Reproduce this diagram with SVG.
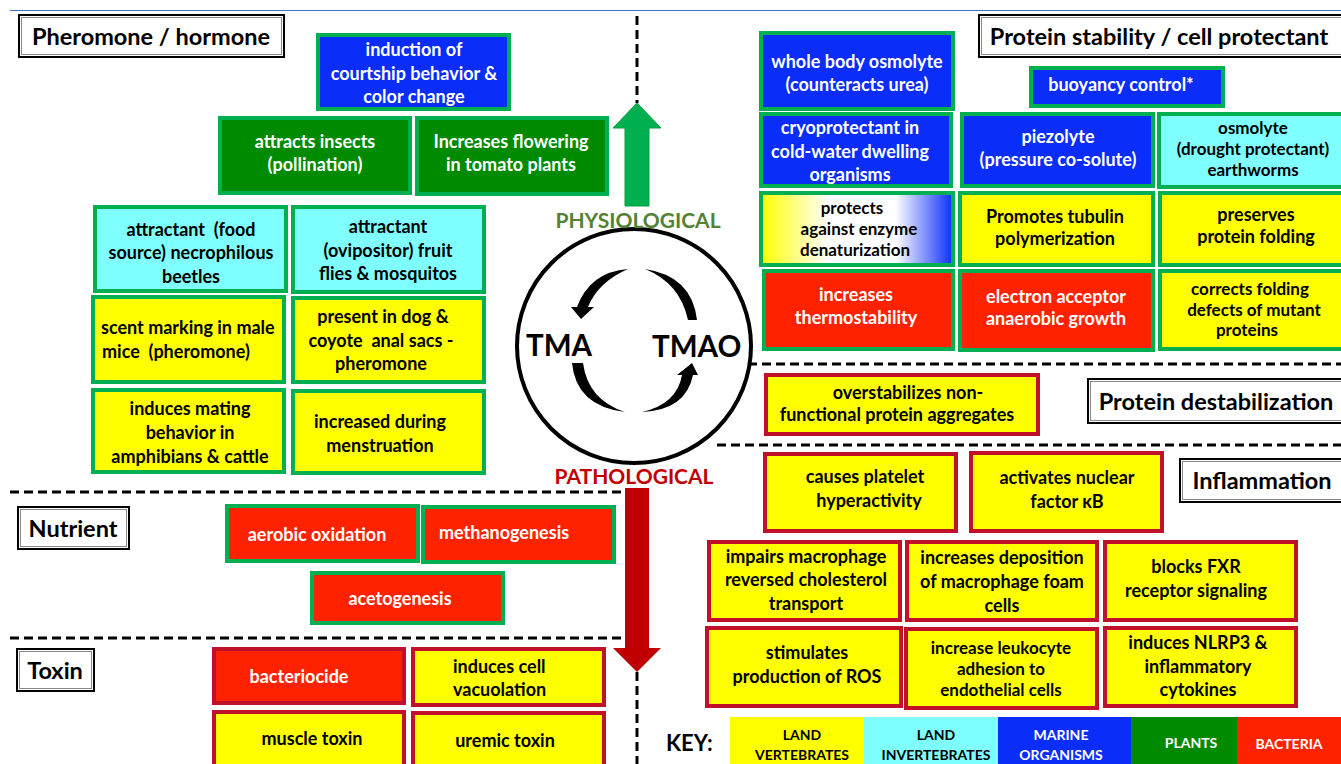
<svg xmlns="http://www.w3.org/2000/svg" width="1341" height="764" viewBox="0 0 1341 764">
<style>
text{font-family:Lato,"Liberation Sans",sans-serif;font-weight:700;font-size:18px;text-anchor:middle;fill:#000}
.w{fill:#fff}
.st{text-anchor:start}
.sm text{font-size:17px}
.g{stroke:#00B050;stroke-width:4}
.r{stroke:#C0102A;stroke-width:4}
.y{fill:#FFFF00}.c{fill:#7FFFFF}.b{fill:#0A2DFA}.p{fill:#008A00}.rd{fill:#FF2200}
.t rect{fill:#fff;stroke:#000;stroke-width:2}
.t rect.in{stroke:#888;stroke-width:1;fill:none}
.t text{font-size:23.5px}
.dash{stroke:#000;stroke-width:3;stroke-dasharray:9 5;fill:none}
.key text{font-size:14px}
.pre{white-space:pre}
</style>
<defs>
<linearGradient id="grad" x1="0" y1="0" x2="1" y2="0">
<stop offset="0" stop-color="#FFFF00"/><stop offset="0.35" stop-color="#FFFFFF"/><stop offset="0.7" stop-color="#FFFFFF"/><stop offset="1" stop-color="#0A2DFA"/>
</linearGradient>
</defs>
<line x1="10" y1="10.5" x2="1341" y2="10.5" stroke="#4472C4" stroke-width="1"/>

<g id="connectors">
<line class="dash" x1="637" y1="16" x2="637" y2="103"/>
<line class="dash" x1="637" y1="672" x2="637" y2="764"/>
<line class="dash" x1="10" y1="492" x2="625" y2="492"/>
<line class="dash" x1="10" y1="638" x2="625" y2="638"/>
<line class="dash" x1="748" y1="364" x2="1341" y2="364"/>
<line class="dash" x1="717" y1="445" x2="1341" y2="445"/>
<polygon points="637,103 661,128 649,128 649,206 625,206 625,128 613,128" fill="#00B050" stroke="#00A040" stroke-width="1"/>
<polygon points="625,488 649,488 649,648 661,648 637,672 613,648 625,648" fill="#C00000"/>
</g>

<g id="cycle">
<circle cx="634" cy="346" r="117" fill="#fff" stroke="#000" stroke-width="4"/>
<path d="M628,269 Q590,272 577,307 L571,307 L581,319 L594,307 L588,307 Q598,282 628,269 Z" fill="#000"/>
<path d="M645,269 Q692,276 697,320 L688,320 Q680,283 645,269 Z" fill="#000"/>
<path d="M572,363 L583,363 Q588,400 625,412 Q576,406 572,363 Z" fill="#000"/>
<path d="M642,412 Q677,404 682,375 L677,375 L692,363 L698,375 L693,375 Q686,410 642,412 Z" fill="#000"/>
<text x="526" y="356" class="st" style="font-size:29.5px">TMA</text>
<text x="652" y="357" class="st" style="font-size:29.5px">TMAO</text>
<text x="638" y="228" style="font-size:21px;fill:#548235">PHYSIOLOGICAL</text>
<text x="634" y="484" style="font-size:21px;fill:#C00000">PATHOLOGICAL</text>
</g>

<g id="title-pheromone" class="t"><rect x="19" y="15" width="265" height="42"/><rect class="in" x="21.5" y="17.5" width="260" height="37"/><text x="151" y="45">Pheromone / hormone</text></g>
<g id="title-protein" class="t"><rect x="979" y="15" width="370" height="42"/><rect class="in" x="981.5" y="17.5" width="365" height="37"/><text x="1159" y="45">Protein stability / cell protectant</text></g>
<g id="title-destab" class="t"><rect x="1088" y="379" width="260" height="44"/><rect class="in" x="1090.5" y="381.5" width="255" height="39"/><text x="1216" y="410">Protein destabilization</text></g>
<g id="title-inflam" class="t"><rect x="1180" y="459" width="170" height="43"/><rect class="in" x="1182.5" y="461.5" width="165" height="38"/><text x="1262" y="489">Inflammation</text></g>
<g id="title-nutrient" class="t"><rect x="18" y="507" width="111" height="42"/><rect class="in" x="20.5" y="509.5" width="106" height="37"/><text x="73" y="537">Nutrient</text></g>
<g id="title-toxin" class="t"><rect x="17" y="649" width="77" height="42"/><rect class="in" x="19.5" y="651.5" width="72" height="37"/><text x="55" y="679">Toxin</text></g>

<g id="n-courtship"><rect x="318" y="35" width="191" height="74" class="b g"/><text class="w" x="414" y="56">induction of</text><text class="w" x="414" y="80">courtship behavior &amp;</text><text class="w" x="414" y="103">color change</text></g>
<g id="n-pollination"><rect x="220" y="118" width="190" height="75" class="p g"/><text class="w" x="315" y="148">attracts insects</text><text class="w" x="315" y="171">(pollination)</text></g>
<g id="n-flowering"><rect x="417" y="118" width="190" height="76" class="p g"/><text class="w" x="511" y="148">Increases flowering</text><text class="w" x="511" y="171">in tomato plants</text></g>
<g id="n-beetles"><rect x="95" y="207" width="191" height="84" class="c g"/><text class="pre" x="191" y="236">attractant  (food</text><text x="191" y="259">source) necrophilous</text><text x="191" y="283">beetles</text></g>
<g id="n-flies"><rect x="293" y="207" width="191" height="85" class="c g"/><text x="388" y="233">attractant</text><text x="388" y="257">(ovipositor) fruit</text><text x="388" y="280">flies &amp; mosquitos</text></g>
<g id="n-mice"><rect x="93" y="297" width="191" height="85" class="y g"/><text class="st" x="101" y="334">scent marking in male</text><text class="st pre" x="102" y="358">mice  (pheromone)</text></g>
<g id="n-dog"><rect x="293" y="298" width="191" height="84" class="y g"/><text x="383" y="323">present in dog &amp;</text><text class="pre" x="381" y="347">coyote  anal sacs -</text><text x="381" y="370">pheromone</text></g>
<g id="n-mating"><rect x="93" y="390" width="191" height="82" class="y g"/><text x="190" y="415">induces mating</text><text x="190" y="439">behavior in</text><text x="190" y="463">amphibians &amp; cattle</text></g>
<g id="n-menstruation"><rect x="293" y="391" width="191" height="82" class="y g"/><text x="380" y="428">increased during</text><text x="380" y="452">menstruation</text></g>

<g id="n-aerobic"><rect x="227" y="506" width="191" height="55" class="rd g"/><text class="w" x="317" y="541">aerobic oxidation</text></g>
<g id="n-methano"><rect x="423" y="507" width="191" height="55" class="rd g"/><text class="w st" x="439" y="539">methanogenesis</text></g>
<g id="n-aceto"><rect x="312" y="573" width="191" height="50" class="rd g"/><text class="w" x="400" y="605">acetogenesis</text></g>

<g id="n-bacteriocide"><rect x="214" y="649" width="190" height="54" class="rd r"/><text class="w" x="299" y="683">bacteriocide</text></g>
<g id="n-vacuolation"><rect x="413" y="649" width="191" height="56" class="y r"/><text class="st" x="453" y="673">induces cell</text><text class="st" x="453" y="696">vacuolation</text></g>
<g id="n-muscle"><rect x="214" y="712" width="190" height="60" class="y r"/><text x="312" y="745">muscle toxin</text></g>
<g id="n-uremic"><rect x="413" y="713" width="191" height="60" class="y r"/><text x="505" y="747">uremic toxin</text></g>

<g id="n-wholebody"><rect x="761" y="33" width="192" height="76" class="b g"/><text class="w" x="857" y="68">whole body osmolyte</text><text class="w" x="857" y="91">(counteracts urea)</text></g>
<g id="n-buoyancy"><rect x="1031" y="68" width="192" height="38" class="b g"/><text class="w" x="1121" y="91">buoyancy control*</text></g>
<g id="n-cryo"><rect x="761" y="114" width="190" height="72" class="b g"/><text class="w" x="850" y="134">cryoprotectant in</text><text class="w" x="850" y="158">cold-water dwelling</text><text class="w" x="850" y="181">organisms</text></g>
<g id="n-piezolyte"><rect x="962" y="114" width="191" height="72" class="b g"/><text class="w" x="1058" y="143">piezolyte</text><text class="w" x="1058" y="166">(pressure co-solute)</text></g>
<g id="n-osmolyte" class="sm"><rect x="1159" y="114" width="190" height="73" class="c g"/><text x="1253" y="134">osmolyte</text><text x="1253" y="155">(drought protectant)</text><text x="1253" y="176">earthworms</text></g>
<g id="n-enzyme" class="sm"><rect x="761" y="193" width="192" height="72" fill="url(#grad)" class="g"/><text x="852" y="214">protects</text><text x="859" y="235">against enzyme</text><text x="855" y="256">denaturization</text></g>
<g id="n-tubulin"><rect x="960" y="193" width="193" height="72" class="y g"/><text x="1055" y="223">Promotes tubulin</text><text x="1055" y="245">polymerization</text></g>
<g id="n-folding"><rect x="1160" y="193" width="190" height="72" class="y g"/><text x="1256" y="221">preserves</text><text x="1256" y="243">protein folding</text></g>
<g id="n-thermo"><rect x="764" y="271" width="189" height="78" class="rd g"/><text class="w" x="856" y="301">increases</text><text class="w" x="856" y="324">thermostability</text></g>
<g id="n-electron"><rect x="960" y="271" width="193" height="79" class="rd g"/><text class="w" x="1056" y="303">electron acceptor</text><text class="w" x="1056" y="325">anaerobic growth</text></g>
<g id="n-corrects" class="sm"><rect x="1160" y="271" width="190" height="78" class="y g"/><text x="1250" y="295">corrects folding</text><text x="1254" y="315.5">defects of mutant</text><text x="1247" y="336">proteins</text></g>

<g id="n-overstab"><rect x="766" y="375" width="272" height="59" class="y r"/><text x="908" y="399">overstabilizes non-</text><text x="897" y="421">functional protein aggregates</text></g>

<g id="n-platelet"><rect x="765" y="454" width="191" height="77" class="y r"/><text x="865" y="483">causes platelet</text><text x="869" y="507">hyperactivity</text></g>
<g id="n-nfkb"><rect x="971" y="453" width="191" height="78" class="y r"/><text x="1067" y="484">activates nuclear</text><text x="1067" y="508">factor κB</text></g>
<g id="n-cholesterol"><rect x="709" y="542" width="191" height="78" class="y r"/><text x="806" y="563">impairs macrophage</text><text x="806" y="586">reversed cholesterol</text><text x="806" y="610">transport</text></g>
<g id="n-foam"><rect x="907" y="542" width="190" height="78" class="y r"/><text x="1002" y="564">increases deposition</text><text x="1002" y="588">of macrophage foam</text><text x="1002" y="612">cells</text></g>
<g id="n-fxr"><rect x="1105" y="542" width="191" height="78" class="y r"/><text x="1196" y="573">blocks FXR</text><text x="1196" y="597">receptor signaling</text></g>
<g id="n-ros"><rect x="707" y="628" width="194" height="78" class="y r"/><text x="807" y="659">stimulates</text><text x="807" y="683">production of ROS</text></g>
<g id="n-leukocyte" class="sm"><rect x="906" y="629" width="191" height="79" class="y r"/><text x="1001" y="654">increase leukocyte</text><text x="1001" y="675">adhesion to</text><text x="1001" y="696">endothelial cells</text></g>
<g id="n-nlrp3"><rect x="1105" y="628" width="191" height="78" class="y r"/><text x="1198" y="649">induces NLRP3 &amp;</text><text x="1198" y="673">inflammatory</text><text x="1198" y="696">cytokines</text></g>

<g id="key" class="key">
<text x="666" y="751" class="st" style="font-size:22px">KEY:</text>
<rect x="730" y="717" width="134" height="50" class="y"/>
<rect x="864" y="717" width="134" height="50" class="c"/>
<rect x="998" y="717" width="133" height="50" class="b"/>
<rect x="1131" y="717" width="106" height="50" class="p"/>
<rect x="1237" y="717" width="104" height="50" class="rd"/>
<text x="802" y="740">LAND</text><text x="802" y="760">VERTEBRATES</text>
<text x="936" y="740">LAND</text><text x="936" y="760">INVERTEBRATES</text>
<text class="w" x="1061" y="740">MARINE</text><text class="w" x="1061" y="760">ORGANISMS</text>
<text class="w" x="1191" y="748">PLANTS</text>
<text class="w" x="1289" y="749">BACTERIA</text>
</g>
</svg>
